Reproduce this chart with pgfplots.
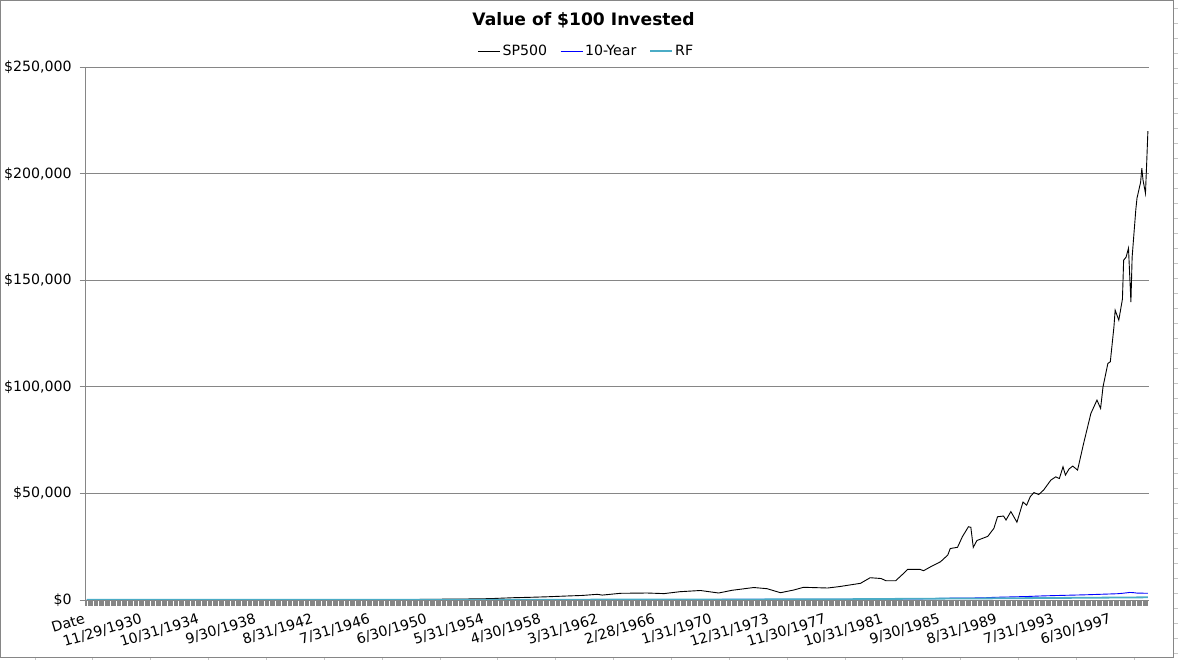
\documentclass[border=0pt]{standalone}
\usepackage{pgfplots}
\pgfplotsset{compat=1.18}
\usepackage{fontspec}
\setmainfont{DejaVu Sans}
\definecolor{rfc}{HTML}{4BACC6}
\definecolor{axgray}{HTML}{868686}
\begin{document}
\fontsize{14.2}{17}\selectfont
\begin{tikzpicture}
\path[use as bounding box] (0,0) rectangle (1178bp,660bp);
\draw[axgray, line width=1bp] (0.5bp,2bp) rectangle (1173bp,659.5bp);
\foreach \k in {0,...,43} \draw[gray!45, line width=0.8bp] (1173.5bp,{651.7bp-15bp*\k}) -- (1178bp,{651.7bp-15bp*\k});
\foreach \k in {0,...,19} \draw[gray!45, line width=0.8bp] ({35bp+57.85bp*\k},0bp) -- ({35bp+57.85bp*\k},1.6bp);
\node[font=\fontsize{17.2}{20}\selectfont\bfseries] at (583.5bp,639.5bp) {Value of \$100 Invested};
\begin{axis}[
  at={(85bp,60bp)}, anchor=south west,
  scale only axis, width=1063.5bp, height=532.7bp,
  xmin=-0.5, xmax=876.5, ymin=0, ymax=250000,
  axis x line*=bottom, axis y line*=left,
  x axis line style={-}, y axis line style={-},
  axis line style={axgray, line width=1bp},
  tick align=outside,
  xtick={0,47,...,846},
  xticklabels={Date,11/29/1930,10/31/1934,9/30/1938,8/31/1942,7/31/1946,6/30/1950,5/31/1954,4/30/1958,3/31/1962,2/28/1966,1/31/1970,12/31/1973,11/30/1977,10/31/1981,9/30/1985,8/31/1989,7/31/1993,6/30/1997},
  minor xtick={1,2,...,876},
  tick style={axgray, line width=0.85bp},
  major tick length=5.5bp, minor tick length=5.5bp,
  ytick={0,50000,100000,150000,200000,250000},
  yticklabels={{\$0},{\$50,000},{\$100,000},{\$150,000},{\$200,000},{\$250,000}},
  scaled y ticks=false,
  ymajorgrids, major grid style={axgray, line width=1bp},
  tick label style={font=\fontsize{14.2}{17}\selectfont},
  yticklabel style={xshift=-3bp},
  xticklabel style={rotate=17, anchor=north east, yshift=-1.5bp},
  legend columns=3,
  legend style={at={(0.4715,1.0306)}, anchor=center, draw=none, fill=none,
    font=\fontsize{14.2}{17}\selectfont,
    /tikz/every even column/.append style={column sep=11bp}},
  legend image code/.code={\draw[#1] (0bp,0bp) -- (22bp,0bp);},
]
\addplot[black, line width=0.9bp] coordinates {
(1,100) (6,105) (12,130) (20,160) (32,215) (34,150) (40,175) (48,120) (60,70) (66,35) (68,55) (78,70) (86,85) (96,90) (108,130) (122,180) (135,95) (150,120) (160,115) (174,95) (184,85) (200,130) (216,170) (234,250) (240,200) (264,220) (276,260) (288,330) (300,420)
(312,480) (324,520) (336,700) (353,1080) (367,1270) (380,1500) (397,1880) (410,2150) (422,2670) (426,2300) (441,3140) (463,3280) (477,3000) (490,3890) (507,4460) (522,3280) (533,4550) (551,5860) (562,5300) (573,3420) (584,4690) (592,5960) (612,5630) (622,6330) (639,7830) (647,10460) (656,10080) (660,9050) (668,9050) (674,12200) (678,14400) (688,14400) (691,13740) (698,15950) (705,17960) (711,21100) (713,24150) (719,24720) (723,29690) (728,34380) (730,34100) (732,24720) (735,27910) (744,29880) (749,33630) (752,39070) (757,39400) (759,37520) (763,41510) (768,36500) (773,45970) (776,44500) (779,48500) (782,50420) (786,49500) (790,51590) (796,56280) (800,57800) (803,57000) (806,62510) (808,58630) (811,61500) (814,62850) (818,60980) (823,73500) (829,87570) (834,93810) (837,89920) (839,100050) (843,111020) (845,111770) (848,128190) (849,136020) (852,131330) (855,141180) (856,159470) (858,160880) (860,165100) (862,139770) (863,160880) (866,182930) (867,188550) (870,196060) (871,202630) (872,197000) (874,190900) (875,205000) (876,220000)
};
\addlegendentry{SP500}
\addplot[blue, line width=0.9bp] coordinates {
(1,100) (60,120) (120,145) (180,165) (228,180) (288,185) (348,190) (408,205) (468,225) (528,260) (576,280) (624,320) (660,380) (684,500) (700,650) (708,820) (740,1000) (749,1250) (763,1450) (777,1650) (787,1880) (797,2050) (811,2250) (825,2450) (838,2700) (851,2950) (856,3200) (861,3550) (864,3450) (867,3250) (876,3150)
};
\addlegendentry{10-Year}
\addplot[rfc, line width=1.8bp] coordinates {
(1,100) (84,112) (168,114) (228,118) (288,124) (348,138) (408,160) (468,190) (528,245) (576,300) (624,370) (660,490) (696,620) (744,760) (792,930) (840,1110) (876,1260)
};
\addlegendentry{RF}
\end{axis}
\end{tikzpicture}
\end{document}
